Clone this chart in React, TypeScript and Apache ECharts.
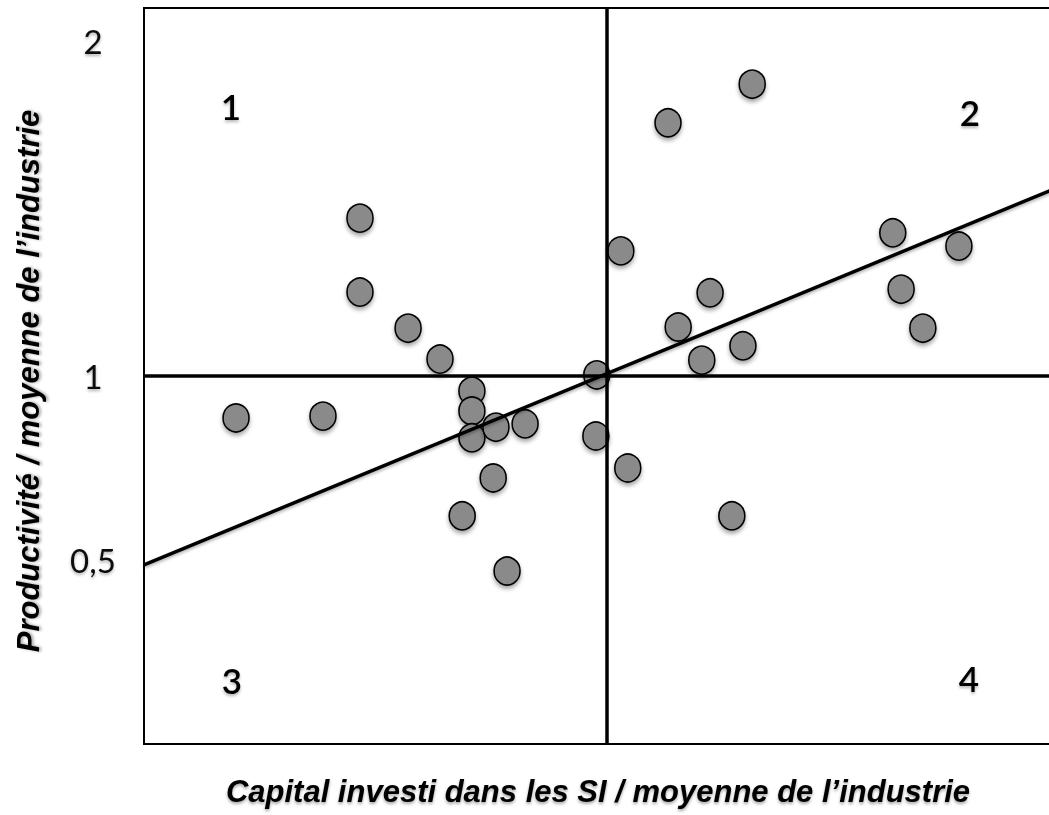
import React, { useEffect, useRef } from "react";
import * as echarts from "echarts";

// Firm positions: [capital invested in IS / industry avg, productivity / industry avg]
const firmsX = [
  0.199, 0.387, 0.467, 0.467, 0.571, 0.64, 0.709, 0.709, 0.709, 0.761, 0.824, 0.755, 0.688, 0.785,
  0.979, 0.977, 1.046, 1.031, 1.133, 1.315, 1.155, 1.224, 1.206, 1.295, 1.271, 1.619, 1.762, 1.637, 1.684,
];
const firmsY = [
  0.886, 0.891, 1.429, 1.228, 1.13, 1.046, 0.959, 0.905, 0.832, 0.861, 0.87, 0.723, 0.62, 0.47,
  1.003, 0.837, 0.75, 1.34, 1.688, 1.793, 1.133, 1.226, 1.043, 1.082, 0.62, 1.389, 1.353, 1.236, 1.13,
];
const trendX = [0, 2];
const trendY = [0.487, 1.525];
const yTickValues = [0.5, 1, 2];
const yTickLabels = ["0,5", "1", "2"];
const quadrantLabels = ["1", "2", "3", "4"];
const xTitle = "Capital investi dans les SI / moyenne de l\u2019industrie";
const yTitle = "Productivit\u00e9 / moyenne de l\u2019industrie";

export default function App() {
  const ref = useRef<HTMLDivElement>(null);
  useEffect(() => {
    if (!ref.current) return;
    const chart = echarts.init(ref.current, null, { renderer: "svg" });
    const points = firmsX.map((x, i) => [x, firmsY[i]]);
    const trend = trendX.map((x, i) => [x, trendY[i]]);
    const titleStyle = {
      fontFamily: "Liberation Sans, Arial, sans-serif",
      fontStyle: "italic" as const,
      fontWeight: "bold" as const,
      fontSize: 31,
      color: "#000",
      textShadowColor: "rgba(0,0,0,0.35)",
      textShadowBlur: 3,
      textShadowOffsetY: 2,
    };
    const quadStyle = {
      fontFamily: "Lato, Open Sans, sans-serif",
      fontWeight: 600,
      fontSize: 35,
      fill: "#000",
      textAlign: "center",
      textVerticalAlign: "middle",
      textShadowColor: "rgba(0,0,0,0.3)",
      textShadowBlur: 3,
      textShadowOffsetY: 2,
    };
    const quadPos = [
      [231, 106],
      [970, 112],
      [232, 680],
      [969, 678],
    ];
    chart.setOption({
      animation: false,
      backgroundColor: "#fff",
      grid: {
        left: 144,
        top: 8,
        right: -20,
        bottom: 71,
        containLabel: false,
        outerBoundsMode: "none",
        show: true,
        borderColor: "#000",
        borderWidth: 2,
      },
      xAxis: {
        type: "value",
        min: 0,
        max: 2,
        splitLine: { show: false },
        axisLine: { show: false },
        axisTick: { show: false },
        axisLabel: { show: false },
        name: xTitle,
        nameLocation: "middle",
        nameGap: 32,
        nameTextStyle: { ...titleStyle, padding: [0, 17, 0, 0] },
      },
      yAxis: {
        type: "value",
        min: 0,
        max: 2,
        interval: 0.5,
        splitLine: { show: false },
        axisLine: { show: false },
        axisTick: { show: false },
        axisLabel: {
          showMaxLabel: true,
          showMinLabel: true,
          align: "center",
          margin: 51,
          fontFamily: "Lato, Open Sans, sans-serif",
          fontWeight: "normal",
          fontSize: 33,
          color: "#111",
          textShadowColor: "rgba(0,0,0,0.3)",
          textShadowBlur: 3,
          textShadowOffsetY: 2,
          formatter: (v: number) => {
            const idx = yTickValues.findIndex((t) => Math.abs(t - v) < 1e-9);
            if (idx < 0) return "";
            if (v === 2) return "{top|" + yTickLabels[idx] + "}";
            return yTickLabels[idx];
          },
          rich: {
            top: {
              fontFamily: "Lato, Open Sans, sans-serif",
              fontWeight: "normal",
              fontSize: 33,
              color: "#111",
              padding: [66, 0, 0, 0],
            },
          },
        },
        name: yTitle,
        nameLocation: "middle",
        nameRotate: 90,
        nameGap: 100,
        nameTextStyle: { ...titleStyle, padding: [0, 10, 0, 0] },
      },
      series: [
        {
          type: "scatter",
          data: points,
          symbol: "circle",
          symbolSize: [26, 28],
          z: 2,
          itemStyle: {
            color: "#8a8a8a",
            borderColor: "#000",
            borderWidth: 1.6,
            opacity: 1,
            shadowColor: "rgba(0,0,0,0.35)",
            shadowBlur: 4,
            shadowOffsetY: 3,
          },
          emphasis: { disabled: true },
        },
        {
          type: "line",
          data: trend,
          symbol: "none",
          z: 3,
          lineStyle: {
            color: "#000",
            width: 3.5,
            shadowColor: "rgba(0,0,0,0.3)",
            shadowBlur: 3,
            shadowOffsetY: 2,
          },
          markLine: {
            silent: true,
            symbol: "none",
            label: { show: false },
            lineStyle: { color: "#000", width: 3.5, type: "solid" },
            data: [{ xAxis: 1 }, { yAxis: 1 }],
          },
        },
      ],
      graphic: quadrantLabels.map((t, i) => ({
        type: "text",
        x: quadPos[i][0],
        y: quadPos[i][1],
        z: 10,
        style: { ...quadStyle, text: t },
      })),
    });
    return () => chart.dispose();
  }, []);
  return (
    <div
      ref={ref}
      style={{ position: "fixed", left: 0, top: 0, width: 1049, height: 815, background: "#fff" }}
    />
  );
}
